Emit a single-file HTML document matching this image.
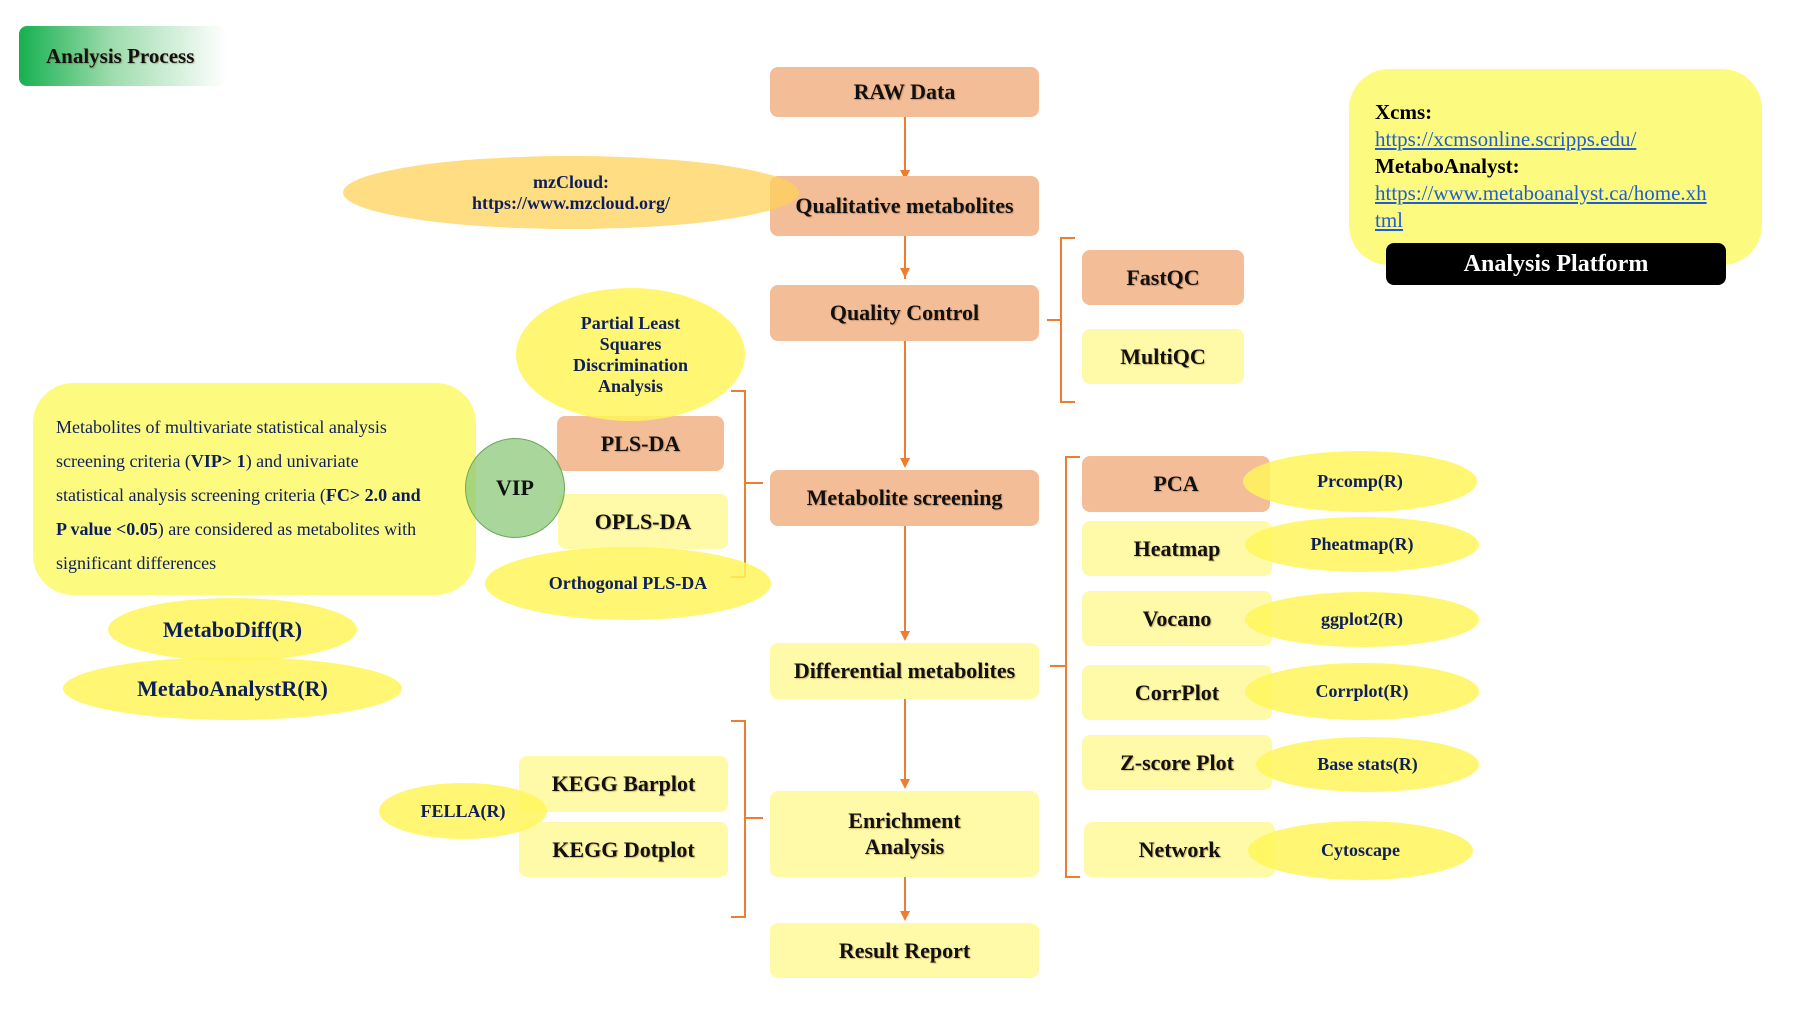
<!DOCTYPE html>
<html><head><meta charset="utf-8"><style>
body{margin:0;width:1800px;height:1012px;background:#fff;position:relative;overflow:hidden;font-family:"Liberation Serif",serif}
.b{position:absolute;display:flex;align-items:center;justify-content:center;text-align:center;font-weight:bold;font-size:22px;color:#111;border-radius:8px;box-sizing:border-box;text-shadow:1px 1px 1px rgba(120,60,0,.35)}
.s{background:#f3bd98}.y{background:#fffaa8}
.e{position:absolute;display:flex;align-items:center;justify-content:center;text-align:center;border-radius:50%;font-weight:bold;font-size:18px;color:#0d1f5a;background:rgba(255,246,90,.85)}
svg{position:absolute;left:0;top:0}
</style></head><body>
<div class="b" style="left:19px;top:26px;width:208px;height:60px;background:linear-gradient(90deg,#16b04f,#9fdcae 45%,#fff);justify-content:flex-start;padding-left:27px;font-size:21px">Analysis Process</div>

<svg width="1800" height="1012">
<g stroke="#ed7d31" stroke-width="2" fill="none">
<line x1="905" y1="117" x2="905" y2="170"/><line x1="905" y1="236" x2="905" y2="279"/>
<line x1="905" y1="341" x2="905" y2="464"/><line x1="905" y1="526" x2="905" y2="637"/>
<line x1="905" y1="699" x2="905" y2="785"/><line x1="905" y1="877" x2="905" y2="917"/>
<path d="M1075 238 H1061 V402 H1075 M1061 320 H1047"/>
<path d="M1080 457 H1066 V877 H1080 M1066 666 H1050"/>
<path d="M731 391 H745 V577 H731 M745 483 H763"/>
<path d="M731 721 H745 V917 H731 M745 818 H763"/>
</g>
<g fill="#ed7d31">
<polygon points="900,170 910,170 905,180"/><polygon points="900,268 910,268 905,278"/>
<polygon points="900,458 910,458 905,468"/><polygon points="900,631 910,631 905,641"/>
<polygon points="900,779 910,779 905,789"/><polygon points="900,911 910,911 905,921"/>
</g></svg>

<div class="b s" style="left:770px;top:67px;width:269px;height:50px">RAW Data</div>
<div class="b s" style="left:770px;top:176px;width:269px;height:60px">Qualitative metabolites</div>
<div class="b s" style="left:770px;top:285px;width:269px;height:56px">Quality Control</div>
<div class="b s" style="left:770px;top:470px;width:269px;height:56px">Metabolite screening</div>
<div class="b y" style="left:770px;top:643px;width:269px;height:56px">Differential metabolites</div>
<div class="b y" style="left:770px;top:791px;width:269px;height:86px">Enrichment<br>Analysis</div>
<div class="b y" style="left:770px;top:923px;width:269px;height:55px">Result Report</div>

<div class="e" style="left:343px;top:156px;width:456px;height:73px;background:rgba(253,210,90,.75)">mzCloud:<br>https://www.mzcloud.org/</div>

<div class="b s" style="left:1082px;top:250px;width:162px;height:55px">FastQC</div>
<div class="b y" style="left:1082px;top:329px;width:162px;height:55px">MultiQC</div>

<div style="position:absolute;left:1349px;top:69px;width:413px;height:196px;background:#fdfa80;border-radius:40px"></div>
<div style="position:absolute;left:1375px;top:99px;width:380px;font-size:21px;line-height:27px;color:#000">
<b>Xcms:</b><br><span style="color:#1f5fcf;text-decoration:underline">https://xcmsonline.scripps.edu/</span><br><b>MetaboAnalyst:</b><br><span style="color:#1f5fcf;text-decoration:underline">https://www.metaboanalyst.ca/home.xh<br>tml</span></div>
<div class="b" style="left:1386px;top:243px;width:340px;height:42px;background:#000;color:#fff;text-shadow:none;font-size:24px">Analysis Platform</div>

<div class="b s" style="left:557px;top:416px;width:167px;height:55px">PLS-DA</div>
<div class="b y" style="left:558px;top:494px;width:170px;height:55px">OPLS-DA</div>
<div class="e" style="left:516px;top:288px;width:229px;height:133px">Partial Least<br>Squares<br>Discrimination<br>Analysis</div>
<div class="e" style="left:485px;top:547px;width:286px;height:73px">Orthogonal PLS-DA</div>

<div style="position:absolute;left:33px;top:383px;width:443px;height:212px;background:#fdfa80;border-radius:40px"></div>
<div style="position:absolute;left:56px;top:410px;width:420px;font-size:18px;line-height:34px;color:#0d1f5a;white-space:nowrap">Metabolites of multivariate statistical analysis<br>screening criteria (<b>VIP&gt; 1</b>) and univariate<br>statistical analysis screening criteria (<b>FC&gt; 2.0 and</b><br><b>P value &lt;0.05</b>) are considered as metabolites with<br>significant differences</div>
<div class="e" style="left:465px;top:438px;width:100px;height:100px;background:rgba(140,200,120,.75);border:1px solid #6aa85a;box-sizing:border-box;font-size:22px;color:#111">VIP</div>
<div class="e" style="left:108px;top:598px;width:249px;height:63px;font-size:22px">MetaboDiff(R)</div>
<div class="e" style="left:63px;top:657px;width:339px;height:63px;font-size:22px">MetaboAnalystR(R)</div>

<div class="b s" style="left:1082px;top:456px;width:188px;height:56px">PCA</div>
<div class="b y" style="left:1082px;top:521px;width:190px;height:55px">Heatmap</div>
<div class="b y" style="left:1082px;top:591px;width:190px;height:55px">Vocano</div>
<div class="b y" style="left:1082px;top:665px;width:190px;height:55px">CorrPlot</div>
<div class="b y" style="left:1082px;top:735px;width:190px;height:55px">Z-score Plot</div>
<div class="b y" style="left:1084px;top:822px;width:191px;height:55px">Network</div>
<div class="e" style="left:1243px;top:451px;width:234px;height:61px">Prcomp(R)</div>
<div class="e" style="left:1245px;top:517px;width:234px;height:55px">Pheatmap(R)</div>
<div class="e" style="left:1245px;top:592px;width:234px;height:55px">ggplot2(R)</div>
<div class="e" style="left:1245px;top:663px;width:234px;height:57px">Corrplot(R)</div>
<div class="e" style="left:1256px;top:737px;width:223px;height:55px">Base stats(R)</div>
<div class="e" style="left:1248px;top:821px;width:225px;height:59px">Cytoscape</div>

<div class="b y" style="left:519px;top:756px;width:209px;height:56px">KEGG Barplot</div>
<div class="b y" style="left:519px;top:822px;width:209px;height:55px">KEGG Dotplot</div>
<div class="e" style="left:379px;top:783px;width:168px;height:56px">FELLA(R)</div>
</body></html>
